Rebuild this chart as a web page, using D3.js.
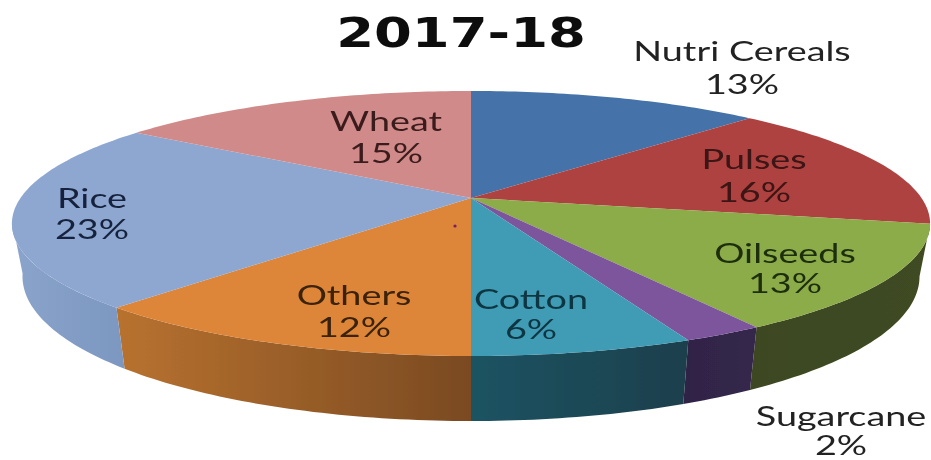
<!DOCTYPE html>
<html>
<head>
<meta charset="utf-8">
<script src="https://cdn.jsdelivr.net/npm/d3@7"></script>
<style>
    html, body { margin: 0; padding: 0; background: #fff; }
    svg { display: block; }
    text { font-family: Lato, sans-serif; text-anchor: middle; }
    .label { font-size: 27px; }
    .title { font-family: "DejaVu Sans", sans-serif; font-size: 40px; font-weight: bold; fill: #0a0a0a; }
</style>
</head>
<body>
<div id="chart"></div>
<script>
var TITLE = "2017-18";
var CATEGORIES = ["Nutri Cereals", "Pulses", "Oilseeds", "Sugarcane", "Cotton", "Others", "Rice", "Wheat"];
var SHARES = [12.4, 15.7, 13.0, 2.4, 6.5, 11.8, 22.8, 15.4];
// what the data labels print
var PERCENT_LABELS = ["13%", "16%", "13%", "2%", "6%", "12%", "23%", "15%"];

var TOP_COLORS = ["#4472a8", "#ae4341", "#8cab49", "#7d559d", "#3f9bb5", "#dd8537", "#8ea7d1", "#d08a89"];
// left and right end of each visible side wall
var WALL_COLORS = [null, null, ["#3c4720", "#3f4b20"], ["#2f2346", "#35274c"], ["#1f5362", "#1b3f4c"],
                   ["#b8722f", "#7a4a22"], ["#8aa4cb", "#7c97c0"], null];
var LABEL_COLORS = ["#222", "#3a1413", "#1e2d0e", "#222", "#0f3642", "#3a2108", "#16243c", "#3a1c1c"];
// centre x, first baseline, second baseline
var LABEL_SPOTS = [[742, 61, 94], [754, 169, 202], [785, 263, 293], [841, 426, 455],
                   [531, 309, 339], [354, 305, 337], [92, 208, 239], [386, 131, 163]];

var WIDTH = 931, HEIGHT = 460;
var PERSPECTIVE = 0.1924;          // how much the far rim shrinks
var WALL_FROM = 100 * Math.PI / 180, WALL_TO = 260 * Math.PI / 180;

var svg = d3.select("#chart").append("svg")
    .attr("width", WIDTH)
    .attr("height", HEIGHT)
    .attr("viewBox", "0 0 " + WIDTH + " " + HEIGHT);

var defs = svg.append("defs");
defs.append("filter").attr("id", "soft")
    .attr("x", "-5%").attr("y", "-5%").attr("width", "110%").attr("height", "110%")
    .append("feGaussianBlur").attr("stdDeviation", 0.7);

var xScale = d3.scaleLinear().domain([0, 1]).range([471, 921.5]);
var yScale = d3.scaleLinear().domain([0, 1]).range([198, 70.4]);

// unit circle -> picture, with the tilt of the 3-d pie
function rim(angle) {
    var u = Math.sin(angle), v = Math.cos(angle), w = 1 + PERSPECTIVE * v;
    return [xScale(u / w), yScale(v / w)];
}
function lowerRim(angle) {
    var p = rim(angle);
    return [471 + 0.977 * (p[0] - 471), p[1] + 50 - 15 * Math.cos(angle)];
}
function arcPoints(fn, a0, a1) {
    var n = Math.max(2, Math.ceil((a1 - a0) * 60));
    return d3.range(n + 1).map(function(i) { return fn(a0 + (a1 - a0) * i / n); });
}

var pie = d3.pie().sort(null).value(function(d) { return d; });
var slices = pie(SHARES);
var line = d3.line();

var chart = svg.append("g").attr("filter", "url(#soft)");

// side walls first, the top surface sits on them
slices.forEach(function(d, i) {
    var a0 = Math.max(d.startAngle, WALL_FROM), a1 = Math.min(d.endAngle, WALL_TO);
    if (a1 <= a0 || !WALL_COLORS[i]) return;
    var grad = defs.append("linearGradient").attr("id", "wall" + i);
    grad.append("stop").attr("offset", "0%").attr("stop-color", WALL_COLORS[i][0]);
    grad.append("stop").attr("offset", "100%").attr("stop-color", WALL_COLORS[i][1]);
    var pts = arcPoints(rim, a0, a1).concat(arcPoints(lowerRim, a0, a1).reverse());
    chart.append("path")
        .attr("d", line(pts) + "Z")
        .attr("fill", "url(#wall" + i + ")");
});

chart.selectAll(".slice").data(slices).enter().append("path")
    .attr("class", "slice")
    .attr("d", function(d) {
        return line([[xScale(0), yScale(0)]].concat(arcPoints(rim, d.startAngle, d.endAngle))) + "Z";
    })
    .attr("fill", function(d, i) { return TOP_COLORS[i]; });

// the little stray speck left of the centre
chart.append("circle")
    .attr("cx", xScale(0) - 16).attr("cy", yScale(0) + 28)
    .attr("r", 1.6).attr("fill", "#7a1f6a");

var STRETCH = 1.4;
var labels = svg.append("g").attr("filter", "url(#soft)");
CATEGORIES.forEach(function(name, i) {
    var spot = LABEL_SPOTS[i];
    [[name, spot[1]], [PERCENT_LABELS[i], spot[2]]].forEach(function(t) {
        labels.append("text")
            .attr("class", "label")
            .attr("transform", "translate(" + spot[0] + "," + t[1] + ") scale(" + STRETCH + ",1)")
            .attr("fill", LABEL_COLORS[i])
            .text(t[0]);
    });
});

labels.append("text")
    .attr("class", "title")
    .attr("transform", "translate(461,47) scale(1.36,1)")
    .text(TITLE);
</script>
</body>
</html>
